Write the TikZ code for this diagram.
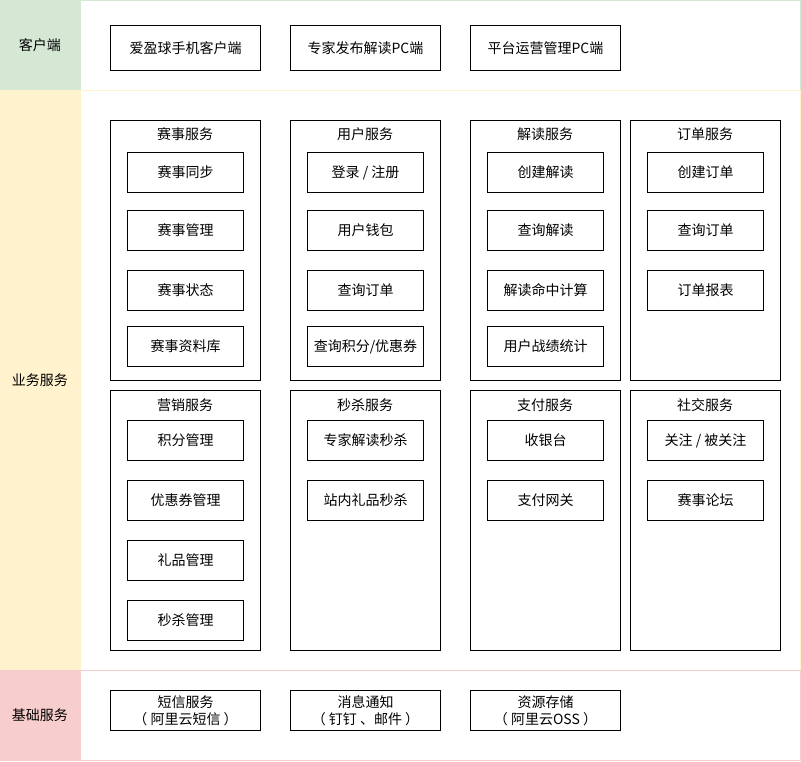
\documentclass[tikz,border=0pt]{standalone}
\usepackage{fontspec}
\setmainfont{Noto Sans CJK SC}
\definecolor{clientgreen}{HTML}{D5E8D4}
\definecolor{bizyellow}{HTML}{FFF2CC}
\definecolor{basered}{HTML}{F8CECC}
\tikzset{
  lanehead/.style={draw=#1, fill=#1, anchor=north west, inner sep=0pt,
    outer sep=0pt, minimum width=80pt},
  lanebody/.style={draw=#1, fill=white, anchor=north west, inner sep=0pt,
    outer sep=0pt, minimum width=720pt},
  appbox/.style={draw, line width=1pt, anchor=north west, inner sep=0pt,
    minimum width=150pt, minimum height=45pt, align=center},
  group/.style={draw, line width=1pt, anchor=north west, inner sep=0pt,
    minimum width=150pt, minimum height=260pt},
  item/.style={draw, line width=1pt, anchor=north west, inner sep=0pt,
    minimum width=116pt, minimum height=40pt},
  grouptitle/.style={inner sep=0pt}
}
\begin{document}
\begin{tikzpicture}[x=1pt,y=-1pt,font=\fontsize{14}{17}\selectfont]
\useasboundingbox (0,0) rectangle (801,761);

% Lanes: header cell on the left, white body on the right
\node[lanebody=clientgreen, minimum height=90pt] (clientbody) at (80,0) {};
\node[lanehead=clientgreen, minimum height=90pt] (client) at (0,0) {客户端};
\node[lanebody=bizyellow, minimum height=580pt] (bizbody) at (80,90) {};
\node[lanehead=bizyellow, minimum height=580pt] (biz) at (0,90) {业务服务};
\node[lanebody=basered, minimum height=90pt] (basebody) at (80,670) {};
\node[lanehead=basered, minimum height=90pt] (base) at (0,670) {基础服务};

% Client applications
\node[appbox] (app) at (110,25) {爱盈球手机客户端};
\node[appbox] (expert) at (290,25) {专家发布解读PC端};
\node[appbox] (admin) at (470,25) {平台运营管理PC端};

% Service groups, upper row
\node[group] (match) at (110,120) {};
\node[grouptitle] at (185,134) {赛事服务};
\node[item] (matchsync) at (127,152) {赛事同步};
\node[item] (matchmgr) at (127,210) {赛事管理};
\node[item] (matchstate) at (127,270) {赛事状态};
\node[item] (matchdb) at (127,326) {赛事资料库};

\node[group] (user) at (290,120) {};
\node[grouptitle] at (365,134) {用户服务};
\node[item] (login) at (307,152) {登录 / 注册};
\node[item] (wallet) at (307,210) {用户钱包};
\node[item] (userorder) at (307,270) {查询订单};
\node[item] (points) at (307,326) {查询积分/优惠券};

\node[group] (reading) at (470,120) {};
\node[grouptitle] at (545,134) {解读服务};
\node[item] (newread) at (487,152) {创建解读};
\node[item] (findread) at (487,210) {查询解读};
\node[item] (hitrate) at (487,270) {解读命中计算};
\node[item] (record) at (487,326) {用户战绩统计};

\node[group] (order) at (630,120) {};
\node[grouptitle] at (705,134) {订单服务};
\node[item] (neworder) at (647,152) {创建订单};
\node[item] (findorder) at (647,210) {查询订单};
\node[item] (report) at (647,270) {订单报表};

% Service groups, lower row
\node[group] (market) at (110,390) {};
\node[grouptitle] at (185,405) {营销服务};
\node[item] (pointmgr) at (127,420) {积分管理};
\node[item] (coupon) at (127,480) {优惠券管理};
\node[item] (gift) at (127,540) {礼品管理};
\node[item] (flashmgr) at (127,600) {秒杀管理};

\node[group] (flash) at (290,390) {};
\node[grouptitle] at (365,405) {秒杀服务};
\node[item] (flashread) at (307,420) {专家解读秒杀};
\node[item] (flashgift) at (307,480) {站内礼品秒杀};

\node[group] (pay) at (470,390) {};
\node[grouptitle] at (545,405) {支付服务};
\node[item] (cashier) at (487,420) {收银台};
\node[item] (gateway) at (487,480) {支付网关};

\node[group] (social) at (630,390) {};
\node[grouptitle] at (705,405) {社交服务};
\node[item] (follow) at (647,420) {关注 / 被关注};
\node[item] (forum) at (647,480) {赛事论坛};

% Base services
\node[appbox, minimum height=40pt] (sms) at (110,690) {短信服务\\（ 阿里云短信 ）};
\node[appbox, minimum height=40pt] (notify) at (290,690) {消息通知\\（ 钉钉 、邮件 ）};
\node[appbox, minimum height=40pt] (storage) at (470,690) {资源存储\\（ 阿里云OSS ）};
\end{tikzpicture}
\end{document}
